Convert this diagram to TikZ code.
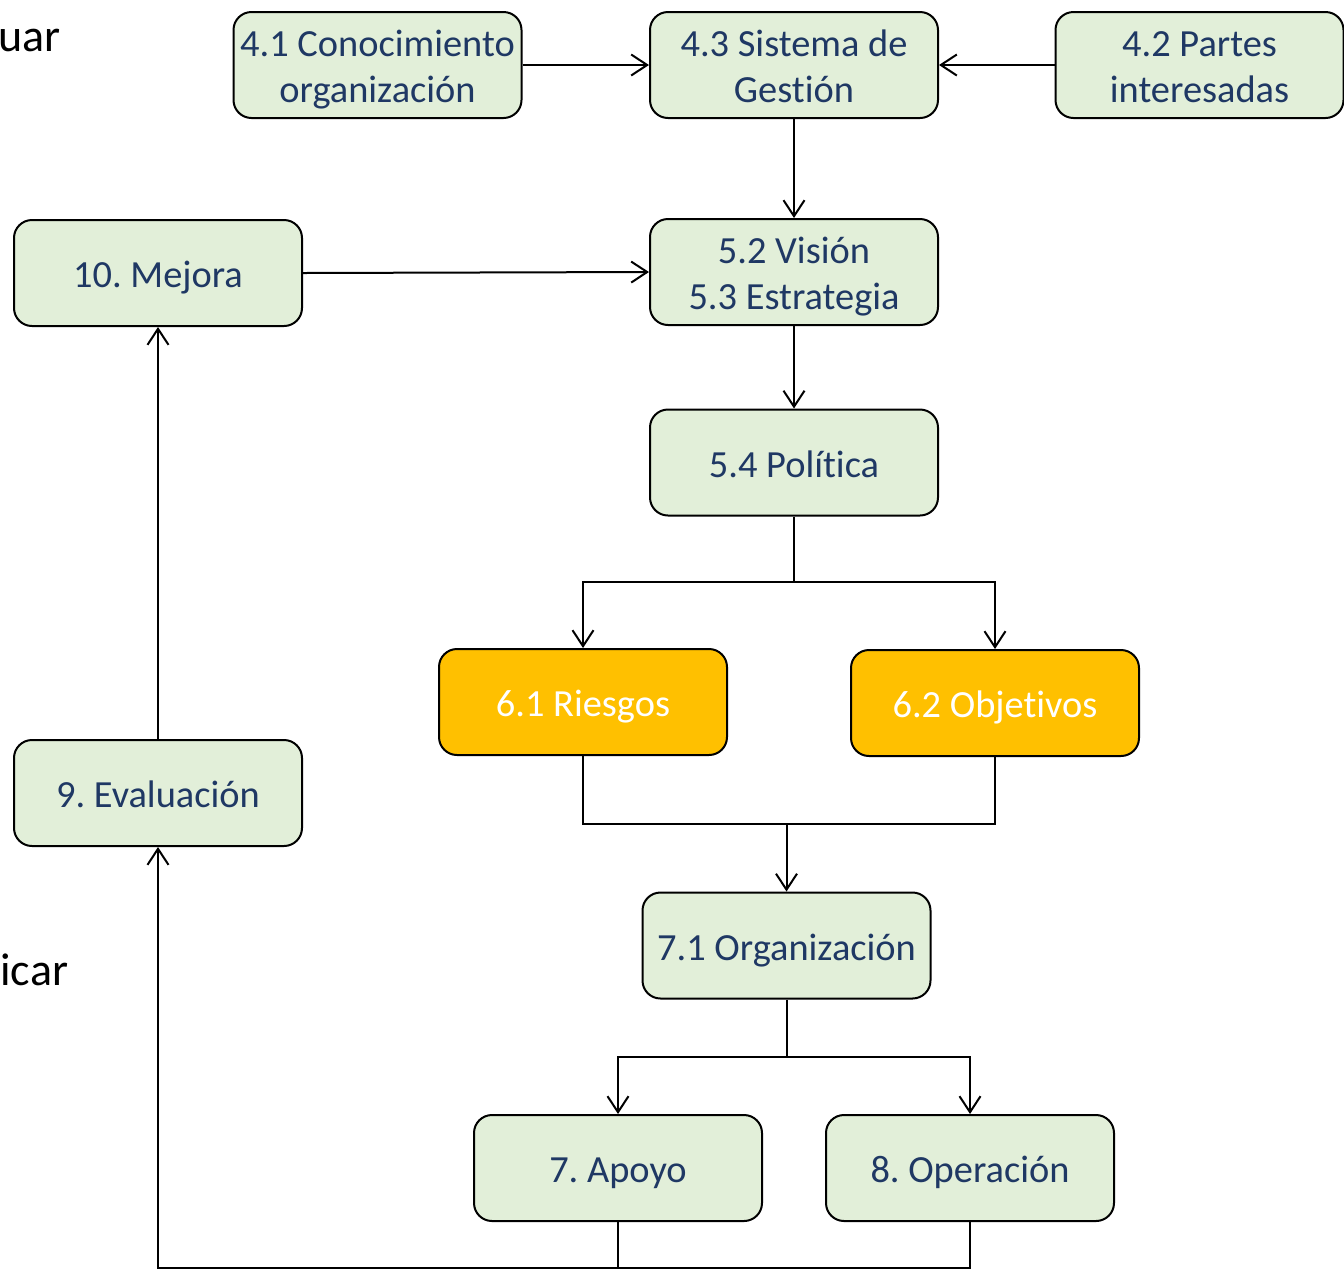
\documentclass[tikz,border=0pt]{standalone}
\usepackage{fontspec}
\setmainfont{Carlito}[Ligatures=NoCommon]
\usetikzlibrary{arrows.meta}
\definecolor{boxgreen}{HTML}{E2EFD9}
\definecolor{boxtext}{HTML}{1F3864}
\definecolor{accent}{HTML}{FFC000}

\begin{document}
\frenchspacing
\begin{tikzpicture}[x=0.5pt,y=-0.5pt,
  stage/.style={draw=black, line width=1pt, rounded corners=9pt, fill=boxgreen,
    text=boxtext, minimum width=144pt, minimum height=53pt, align=center,
    font=\fontsize{19.2}{23}\selectfont, inner sep=0pt,
    text height=14.5pt, text depth=0pt},
  stage2/.style={stage, text height=37.5pt, text depth=0pt},
  hot/.style={stage, fill=accent, text=white},
  link/.style={line width=1pt, -{Straight Barb[length=8pt,width=10.5pt]}},
  wire/.style={line width=1pt},
  phase/.style={inner sep=0pt, font=\fontsize{23}{27}\selectfont}]

  % canvas
  \useasboundingbox (0,0) rectangle (1344,1276);

  % cycle phase labels at the left edge
  \node[phase, anchor=base west] (actuar) at (-2,51) {uar};
  \node[phase, anchor=base west] (verificar) at (0,985) {icar};

  % stages
  \node[stage2] (c41) at (377.5,65) {4.1 Conocimiento\\organización};
  \node[stage2] (c43) at (794,65) {4.3 Sistema de\\Gestión};
  \node[stage2] (c42) at (1199.5,65) {4.2 Partes\\interesadas};
  \node[stage]  (m10) at (158,273) {10. Mejora};
  \node[stage2] (v52) at (794,272) {5.2 Visión\\5.3 Estrategia};
  \node[stage]  (p54) at (794,462.5) {5.4 Política};
  \node[hot]    (r61) at (583,702) {6.1 Riesgos};
  \node[hot]    (o62) at (995,703) {6.2 Objetivos};
  \node[stage]  (e9)  at (158,793) {9. Evaluación};
  \node[stage]  (o71) at (786.5,945.5) {7.1 Organización};
  \node[stage]  (a7)  at (618,1168) {7. Apoyo};
  \node[stage]  (o8)  at (970,1168) {8. Operación};

  % junction points
  \coordinate (s1) at (794,582);
  \coordinate (j1) at (786.5,824);
  \coordinate (s2) at (786.5,1057);
  \coordinate (b1) at (158,1268);

  % connectors
  \draw[link] (c41) -- (c43);
  \draw[link] (c42) -- (c43);
  \draw[link] (c43) -- (v52);
  \draw[link] (m10.east) -- (v52.west);
  \draw[link] (v52) -- (p54);
  \draw[wire] (p54.south) -- (s1);
  \draw[link] (s1) -| (r61.north);
  \draw[link] (s1) -| (o62.north);
  \draw[wire] (r61.south) |- (j1);
  \draw[wire] (o62.south) |- (j1);
  \draw[link] (j1) -- (o71.north);
  \draw[wire] (o71.south) -- (s2);
  \draw[link] (s2) -| (a7.north);
  \draw[link] (s2) -| (o8.north);
  \draw[wire] (o8.south) |- (b1);
  \draw[link] (a7.south) |- (b1) -- (e9.south);
  \draw[link] (e9) -- (m10);
\end{tikzpicture}
\end{document}
